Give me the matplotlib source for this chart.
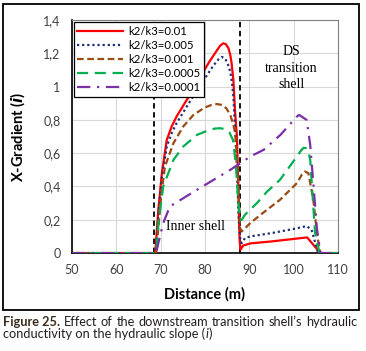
import matplotlib
matplotlib.use('Agg')
import matplotlib.pyplot as plt
from matplotlib.patches import Rectangle
from matplotlib.ticker import FuncFormatter

labels = ['k2/k3=0.01', 'k2/k3=0.005', 'k2/k3=0.001', 'k2/k3=0.0005', 'k2/k3=0.0001']

x_001 = [50, 68.8, 69.5, 70.3, 71.4, 72.5, 73.6, 75.9, 77.4, 79, 81, 82.5, 83.4, 84.1, 84.7, 85.3, 85.7,
         86.0, 86.4, 86.8, 87.2, 87.5, 87.8, 88.0, 88.6, 90.2, 95, 100, 103, 104.4, 106, 110]
y_001 = [0, 0, 0.26, 0.48, 0.68, 0.76, 0.82, 0.92, 0.98, 1.06, 1.15, 1.21, 1.245, 1.26, 1.255, 1.23, 1.19,
         1.14, 1.04, 0.84, 0.70, 0.40, 0.08, 0.02, 0.045, 0.058, 0.07, 0.085, 0.094, 0.05, 0, 0]

x_0005 = [50, 68.9, 69.5, 70.3, 71.4, 72.5, 73.6, 75.9, 78, 80, 82, 83.1, 83.8, 84.5, 85.1, 85.7, 86.1,
          86.4, 86.8, 87.2, 87.6, 88.0, 88.3, 89, 90.2, 95, 100, 102.9, 104, 105.5, 110]
y_0005 = [0, 0, 0.22, 0.46, 0.64, 0.72, 0.78, 0.88, 0.97, 1.05, 1.13, 1.165, 1.178, 1.17, 1.14, 1.09, 1.02,
          0.94, 0.74, 0.5, 0.2, 0.07, 0.06, 0.09, 0.10, 0.12, 0.145, 0.162, 0.14, 0, 0]

x_0001 = [50, 69.0, 69.6, 70.2, 71.0, 72.9, 75.1, 77.4, 80, 81.5, 82.7, 83.8, 84.8, 85.7, 86.4, 86.8,
          87.4, 87.9, 88.3, 90.2, 93, 96.9, 100.7, 101.8, 102.5, 103.3, 104.4, 105.3, 106, 110]
y_0001 = [0, 0, 0.18, 0.36, 0.52, 0.66, 0.76, 0.83, 0.875, 0.89, 0.895, 0.89, 0.87, 0.83, 0.77, 0.72,
          0.5, 0.15, 0.13, 0.18, 0.24, 0.32, 0.42, 0.47, 0.49, 0.48, 0.32, 0.1, 0, 0]

x_00005 = [50, 69.0, 69.6, 70.6, 72.9, 75.1, 78.2, 81, 82.3, 83.4, 84.5, 85.5, 86.3, 86.9, 87.4, 87.9,
           88.3, 89, 91.7, 94, 96.9, 100.7, 101.6, 102.2, 102.8, 103.3, 103.7, 104.8, 105.8, 110]
y_00005 = [0, 0, 0.2, 0.40, 0.56, 0.64, 0.71, 0.74, 0.748, 0.75, 0.745, 0.725, 0.68, 0.55, 0.35, 0.2,
           0.2, 0.23, 0.30, 0.37, 0.44, 0.58, 0.615, 0.632, 0.63, 0.61, 0.56, 0.12, 0, 0]

x_00001 = [50, 69.0, 69.5, 70.6, 72.1, 78.2, 85.7, 88, 90.2, 93.2, 97, 100.7, 101.2, 102.9, 103.7,
           104.4, 105.2, 106, 110]
y_00001 = [0, 0, 0.06, 0.18, 0.28, 0.38, 0.50, 0.54, 0.58, 0.62, 0.71, 0.82, 0.83, 0.80, 0.65,
           0.42, 0.15, 0, 0]

shell_bounds = [68.5, 88]

series = [(x_001, y_001), (x_0005, y_0005), (x_0001, y_0001), (x_00005, y_00005), (x_00001, y_00001)]
colors = ['#ff0000', '#1f2f78', '#9c4a12', '#00b050', '#7b30a8']
styles = ['-', (0, (1, 1.3)), (0, (3, 1.6)), (0, (5, 3)), (0, (6, 3, 1, 3))]

plt.rcParams['font.family'] = ['Lato', 'DejaVu Sans']

fig = plt.figure(figsize=(3.66, 3.51), dpi=100)
ax = fig.add_axes([0.196, 0.279, 0.728, 0.664])

ax.grid(True, color='#d9d9d9', lw=0.8)
ax.set_axisbelow(True)
for xb in shell_bounds:
    ax.axvline(xb, color='black', ls=(0, (3, 2)), lw=1.3, zorder=2)

for (xs, ys), c, st, lab in zip(series, colors, styles, labels):
    ax.plot(xs, ys, color=c, ls=st, lw=1.6, label=lab, zorder=3)

ax.set_xlim(50, 110)
ax.set_ylim(0, 1.4)
ax.set_xticks(range(50, 111, 10))
ax.set_yticks([0, 0.2, 0.4, 0.6, 0.8, 1.0, 1.2, 1.4])
ax.yaxis.set_major_formatter(FuncFormatter(lambda v, p: ('%g' % round(v, 1)).replace('.', ',')))
ax.tick_params(length=0, labelsize=9, labelcolor='#404040', pad=8)
for s in ['left', 'bottom']:
    ax.spines[s].set_color('black')
    ax.spines[s].set_linewidth(1.2)
for s in ['top', 'right']:
    ax.spines[s].set_color('#7f7f7f')

ax.set_xlabel('Distance (m)', fontsize=10.5, fontweight='bold', labelpad=8)
ax.set_ylabel(r'X-Gradient ($\mathbfit{i}$)', fontsize=10.5, fontweight='bold', labelpad=12)

ax.text(77.8, 0.16, 'Inner shell', family='Liberation Serif', fontsize=10, ha='center', va='center')
ax.text(99.5, 1.11, 'DS\ntransition\nshell', family='Liberation Serif', fontsize=10,
        ha='center', va='center', linespacing=1.35)

leg = ax.legend(loc='upper left', fontsize=8.2, handlelength=4.0, labelspacing=0.28,
                borderaxespad=0.2, borderpad=0.3, handletextpad=0.5, fancybox=False,
                framealpha=1, edgecolor='black')
leg.get_frame().set_linewidth(0.9)

fig.patches.append(Rectangle((3 / 366, 1 - 310 / 351), 356 / 366, 306 / 351,
                             transform=fig.transFigure, fill=False, lw=1.3, ec='black'))

# justified first caption line, word by word
cap1 = ['Effect', 'of', 'the', 'downstream', 'transition', "shell\u2019s", 'hydraulic']
fs = 9.2
cfam = 'Lato'
r = fig.canvas.get_renderer()
W = fig.bbox.width
y1 = 1 - 322 / 351
y2 = 1 - 334 / 351
t0 = fig.text(3 / W, y1, 'Figure 25.', fontsize=fs, fontweight='bold',
              color='#3a2a1c', va='center', family=cfam)
words = [fig.text(0, y1, w, fontsize=fs, color='#231f20', va='center', family=cfam) for w in cap1]
widths = [t0.get_window_extent(r).width] + [w.get_window_extent(r).width for w in words]
gap = (357 - 3 - sum(widths)) / len(cap1)
xpos = 3 + widths[0] + gap
for w, wd in zip(words, widths[1:]):
    w.set_x(xpos / W)
    xpos += wd + gap

t1 = fig.text(3 / W, y2, 'conductivity on the hydraulic slope (', fontsize=fs,
              color='#231f20', va='center', family=cfam)
xe = 3 + t1.get_window_extent(r).width + 0.5
t2 = fig.text(xe / W, y2, 'i', fontsize=fs, style='italic', color='#231f20', va='center',
              family=cfam)
xe += t2.get_window_extent(r).width + 0.5
fig.text(xe / W, y2, ')', fontsize=fs, color='#231f20', va='center', family=cfam)

fig.savefig('out.png', dpi=100)
